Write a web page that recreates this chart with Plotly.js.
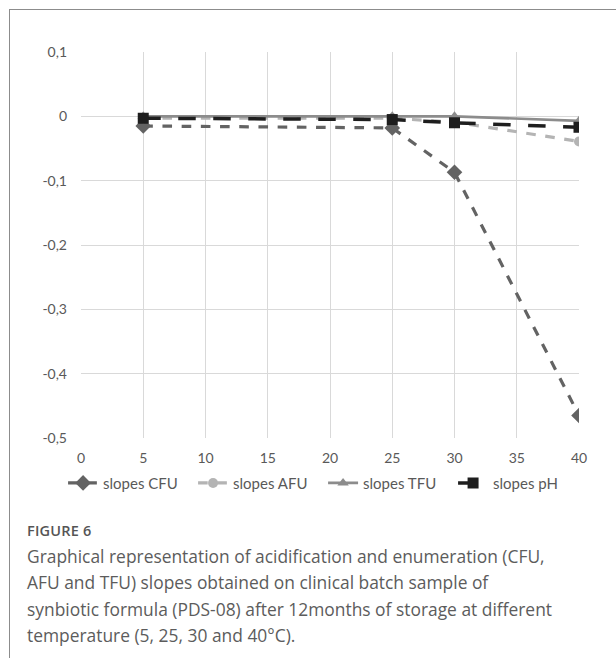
<!DOCTYPE html>
<html>
<head>
<meta charset="utf-8">
<script src="https://cdn.plot.ly/plotly-3.0.1.min.js"></script>
<style>
  html, body { margin: 0; padding: 0; background: #fff; }
  #wrap { position: relative; width: 616px; height: 658px; overflow: hidden; }
  #chart { position: absolute; left: 0; top: 0; width: 616px; height: 658px; }
  #frame { position: absolute; left: 9px; top: 9px; width: 700px; height: 700px;
           border-left: 1.5px solid #8c8c8c; border-top: 1.5px solid #8c8c8c; pointer-events: none; }
  #caption { position: absolute; left: 27px; top: 519px; width: 585px;
             font-family: "Open Sans", sans-serif; color: #5c5c5c; }
  #caption .fig { font-size: 14.5px; font-weight: 600; letter-spacing: 0.2px; line-height: 24px; color: #555; }
  #caption .txt { font-size: 17.4px; line-height: 26.3px; white-space: nowrap; }
</style>
</head>
<body>
<div id="wrap">
  <div id="chart"></div>
  <div id="frame"></div>
  <div id="caption">
    <div class="fig">FIGURE 6</div>
    <div class="txt">Graphical representation of acidification and enumeration (CFU,<br>AFU and TFU) slopes obtained on clinical batch sample of<br>synbiotic formula (PDS-08) after 12months of storage at different<br>temperature (5, 25, 30 and 40°C).</div>
  </div>
</div>
<script>
const temperatures = [5, 25, 30, 40];
const slopesCFU = [-0.015, -0.018, -0.087, -0.465];
const slopesAFU = [-0.003, -0.003, -0.009, -0.039];
const slopesTFU = [0.000, 0.000, 0.000, -0.007];
const slopesPH  = [-0.003, -0.005, -0.010, -0.017];
const seriesNames = ["slopes CFU", "slopes AFU", "slopes TFU", "slopes pH"];
const xTicks = [0, 5, 10, 15, 20, 25, 30, 35, 40];
const yTicks = [0.1, 0, -0.1, -0.2, -0.3, -0.4, -0.5];
const yTickLabels = ["0,1", "0", "-0,1", "-0,2", "-0,3", "-0,4", "-0,5"];

const traces = [
  { x: temperatures, y: slopesCFU, name: seriesNames[0], mode: "lines+markers",
    line: { color: "#636363", width: 3.2, dash: "dash" },
    marker: { symbol: "diamond", size: 12, color: "#636363" } },
  { x: temperatures, y: slopesAFU, name: seriesNames[1], mode: "lines+markers",
    line: { color: "#b4b4b4", width: 3.2, dash: "dash" },
    marker: { symbol: "circle", size: 10, color: "#b4b4b4" } },
  { x: temperatures, y: slopesTFU, name: seriesNames[2], mode: "lines+markers",
    line: { color: "#8c8c8c", width: 2.6 },
    marker: { symbol: "triangle-up", size: 10, color: "#8c8c8c" } },
  { x: temperatures, y: slopesPH, name: seriesNames[3], mode: "lines+markers",
    line: { color: "#1e1e1e", width: 3.5, dash: "longdash" },
    marker: { symbol: "square", size: 11, color: "#1e1e1e" } }
];

const layout = {
  width: 616, height: 658,
  margin: { l: 81, r: 37, t: 52, b: 220 },
  paper_bgcolor: "#fff", plot_bgcolor: "#fff",
  font: { family: "Lato, sans-serif", size: 14, color: "#595959" },
  showlegend: true,
  legend: { orientation: "h", x: -0.036, xanchor: "left", y: -0.117, yanchor: "middle",
            bgcolor: "rgba(0,0,0,0)",
            font: { family: "Lato, sans-serif", size: 15, color: "#595959" },
            entrywidth: 85, entrywidthmode: "pixels", tracegroupgap: 0,
            traceorder: "normal" },
  xaxis: { range: [0, 40], tickvals: xTicks, ticktext: xTicks.map(String),
           showgrid: true, gridcolor: "#d9d9d9", gridwidth: 1, zeroline: false,
           showline: false, ticks: "", ticklabelstandoff: 10, fixedrange: true },
  yaxis: { range: [-0.5, 0.1], tickvals: yTicks, ticktext: yTickLabels,
           showgrid: true, gridcolor: "#d9d9d9", gridwidth: 1, zeroline: false,
           showline: false, ticks: "", ticklabelstandoff: 13, fixedrange: true }
};

Plotly.newPlot("chart", traces, layout, { displayModeBar: false, staticPlot: true });
</script>
</body>
</html>
